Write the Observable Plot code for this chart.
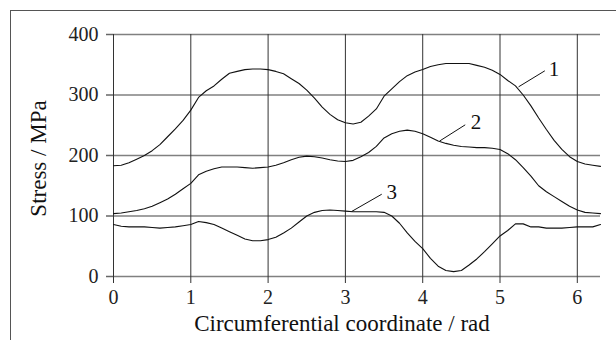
<!DOCTYPE html>
<html><head><meta charset="utf-8">
<script src="https://cdn.jsdelivr.net/npm/d3@7"></script>
<script src="https://cdn.jsdelivr.net/npm/@observablehq/plot@0.6"></script>
<style>
body{margin:0;background:#fff;}
#wrap{position:relative;width:616px;height:340px;overflow:hidden;background:#fff;}
#border{position:absolute;left:10px;top:10px;width:640px;height:360px;border-top:1.5px solid #555;border-left:1.5px solid #555;pointer-events:none;}
svg{position:absolute;left:0;top:0;}
</style></head><body>
<div id="wrap"><div id="border"></div></div>
<script>
const angle = [0,0.1,0.2,0.3,0.4,0.5,0.6,0.7,0.8,0.9,1.0,1.1,1.2,1.3,1.4,1.5,1.6,1.7,1.8,1.9,2.0,2.1,2.2,2.3,2.4,2.5,2.6,2.7,2.8,2.9,3.0,3.1,3.2,3.3,3.4,3.5,3.6,3.7,3.8,3.9,4.0,4.1,4.2,4.3,4.4,4.5,4.6,4.7,4.8,4.9,5.0,5.1,5.2,5.3,5.4,5.5,5.6,5.7,5.8,5.9,6.0,6.1,6.2,6.3];
const stress1 = [183,184,188,194,200,208,218,231,244,258,275,296,307,315,326,336,339,342,343,343,342,339,335,327,319,308,295,280,268,259,254,252,255,265,277,298,310,322,332,338,342,347,350,352,352,352,352,349,346,341,334,324,315,300,282,262,243,225,210,198,190,186,184,182];
const stress2 = [104,105,107,109,112,116,122,128,136,145,154,168,174,178,181,181,181,180,179,180,181,184,188,193,197,199,198,196,193,191,190,192,198,205,215,229,236,240,242,240,236,230,224,220,217,215,214,213,213,212,210,203,193,180,166,150,140,132,124,116,110,106,105,104];
const stress3 = [86,83,82,82,82,81,80,81,82,84,86,91,89,86,80,74,68,62,59,59,61,65,72,80,90,100,106,109,110,109,108,107,107,107,107,106,100,88,72,58,46,30,17,10,8,10,19,29,41,54,67,76,87,87,82,82,80,80,80,81,82,82,82,86];
const xTicks = [0,1,2,3,4,5,6];
const yTicks = [0,100,200,300,400];
const curveNames = ["1","2","3"];
const nameX = [5.70,4.69,3.60];
const nameY = [332,243.6,128];
const leadX1 = [5.24,4.22,3.08];
const leadY1 = [313.5,224,107.4];
const leadX2 = [5.58,4.55,3.47];
const leadY2 = [340,250.7,136];
const xLabel = "Circumferential coordinate / rad";
const yLabel = "Stress / MPa";

const FONT = "Liberation Serif, DejaVu Serif";
const series = [stress1, stress2, stress3];
const rows = [];
series.forEach((s, k) => s.forEach((v, i) => rows.push({x: angle[i], y: v, curve: curveNames[k]})));
const notes = curveNames.map((n, i) => ({n, x: nameX[i], y: nameY[i], x1: leadX1[i], y1: leadY1[i], x2: leadX2[i], y2: leadY2[i]}));

const chart = Plot.plot({
  width: 616, height: 340,
  marginLeft: 113, marginRight: 16, marginTop: 34, marginBottom: 64,
  style: {fontFamily: FONT, fontSize: "20px", background: "transparent", color: "#222"},
  x: {domain: [0, 6.3], axis: null},
  y: {domain: [0, 400], axis: null},
  marks: [
    Plot.gridY(yTicks, {stroke: "#808080", strokeOpacity: 1, strokeWidth: 1.6}),
    Plot.gridX(xTicks, {stroke: "#333", strokeOpacity: 1, strokeWidth: 1}),
    Plot.axisY(yTicks, {anchor: "left", tickSize: 7, tickPadding: 8, label: null, stroke: "#666", strokeWidth: 1.5, fill: "#222", fontSize: 20, fontFamily: FONT}),
    Plot.axisX(xTicks, {anchor: "bottom", tickSize: 7, tickPadding: 6, label: null, stroke: "#333", fill: "#222", fontSize: 20, fontFamily: FONT}),
    Plot.line(rows, {x: "x", y: "y", z: "curve", stroke: "#111", strokeWidth: 1.1}),
    Plot.link(notes, {x1: "x1", y1: "y1", x2: "x2", y2: "y2", stroke: "#111", strokeWidth: 1}),
    Plot.text(notes, {x: "x", y: "y", text: "n", fontSize: 21, fontFamily: FONT, lineAnchor: "bottom", textAnchor: "middle", fill: "#111"}),
    Plot.text([xLabel], {frameAnchor: "bottom", text: d => d, fontSize: 23, fontFamily: FONT, lineAnchor: "bottom", textAnchor: "middle", dx: -15, dy: 54, fill: "#111"}),
    Plot.text([yLabel], {frameAnchor: "left", text: d => d, fontSize: 23, fontFamily: FONT, rotate: -90, lineAnchor: "bottom", textAnchor: "middle", dx: -68, dy: 3, fill: "#111"})
  ]
});
document.getElementById("wrap").appendChild(chart);
</script>
</body></html>
